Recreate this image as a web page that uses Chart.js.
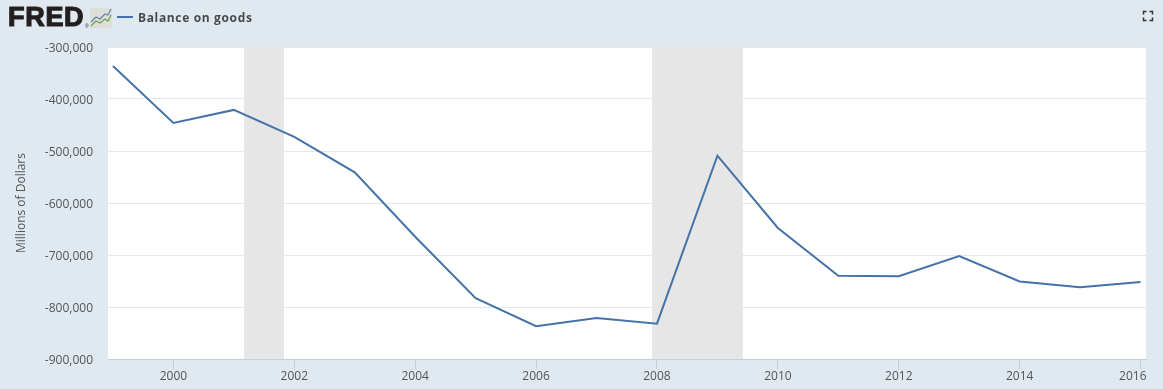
<!DOCTYPE html>
<html>
<head>
<meta charset="utf-8">
<script src="https://cdn.jsdelivr.net/npm/chart.js@4"></script>
<style>
html,body{margin:0;padding:0;background:#E1E9F0;width:1163px;height:389px;overflow:hidden}
#wrap{position:relative;width:1163px;height:389px}
#c{position:absolute;left:0;top:0}
.abs{position:absolute}
#fred{left:8px;top:1px;font:bold 27px/32px "Liberation Sans",Arial,sans-serif;color:#231F20;-webkit-text-stroke:1.2px #231F20;letter-spacing:.7px}
#reg{left:85px;top:23px;font:5px/6px "Liberation Sans",sans-serif;color:#231F20}
#leg{left:138px;top:9px;font:700 12px/17px "Open Sans",sans-serif;color:#4a4a4a;letter-spacing:.65px;white-space:nowrap}
#legline{left:117px;top:16px;width:16px;height:2px;background:#4572A7}
</style>
</head>
<body>
<div id="wrap">
<canvas id="c" width="1163" height="389"></canvas>
<div class="abs" id="fred">FRED</div>
<div class="abs" id="reg">®</div>
<svg class="abs" style="left:90px;top:8px" width="22" height="20" viewBox="0 0 22 20">
<rect x="0" y="0" width="22" height="20" rx="1.5" fill="#DEDEDA"/>
<polyline points="1,14 6,9 10,11 15,6 18,7 21,1" fill="none" stroke="#5F87AD" stroke-width="1.3"/>
<polyline points="1,18 6,13 10,15 15,11 18,13 21,7" fill="none" stroke="#76A04E" stroke-width="1.3"/>
</svg>
<div class="abs" id="legline"></div>
<div class="abs" id="leg">Balance on goods</div>
<svg class="abs" style="left:1142px;top:10px" width="12" height="12" viewBox="0 0 12 12">
<path d="M1.5 4.5V1.5H4.5M7.5 1.5H10.5V4.5M10.5 7.5V10.5H7.5M4.5 10.5H1.5V7.5" fill="none" stroke="#333" stroke-width="1.5"/>
</svg>
</div>
<script>
const years = [1999,2000,2001,2002,2003,2004,2005,2006,2007,2008,2009,2010,2011,2012,2013,2014,2015,2016];
const balanceOnGoods = [-336500,-446000,-421000,-473000,-541000,-665000,-783000,-837000,-821000,-832000,-509000,-648000,-740000,-741000,-702000,-751000,-762000,-752000];
const xTickYears = [2000,2002,2004,2006,2008,2010,2012,2014,2016];
const yTicks = [-900000,-800000,-700000,-600000,-500000,-400000,-300000];
const recessionStarts = [2001.17,2007.92];
const recessionEnds = [2001.83,2009.42];
const seriesName = 'Balance on goods';
const yTitle = 'Millions of Dollars';

const recessionBands = {
  id:'recessionBands',
  beforeDatasetsDraw(chart){
    const {ctx,chartArea:a,scales:{x}} = chart;
    ctx.save();
    ctx.fillStyle = '#E6E6E6';
    recessionStarts.forEach((s,i)=>{
      const l = x.getPixelForValue(s), r = x.getPixelForValue(recessionEnds[i]);
      ctx.fillRect(l,a.top,r-l,a.bottom-a.top);
    });
    ctx.restore();
  }
};
const plotBackground = {
  id:'plotBackground',
  beforeDraw(chart){
    const {ctx,chartArea:a} = chart;
    ctx.save();
    ctx.fillStyle = '#fff';
    ctx.fillRect(a.left,a.top,a.right-a.left,a.bottom-a.top);
    ctx.restore();
  }
};

new Chart(document.getElementById('c'),{
  type:'line',
  data:{
    labels:years,
    datasets:[{
      label:seriesName,
      data:years.map((y,i)=>({x:y,y:balanceOnGoods[i]})),
      borderColor:'#4572A7',
      borderWidth:2,
      pointRadius:0,
      tension:0,
      fill:false
    }]
  },
  options:{
    responsive:false,
    animation:false,
    parsing:false,
    layout:{padding:{top:47,right:17,left:0,bottom:0}},
    plugins:{legend:{display:false},tooltip:{enabled:false}},
    scales:{
      x:{
        type:'linear',
        min:1998.918,
        max:2016.09,
        afterBuildTicks(s){s.ticks = xTickYears.map(v=>({value:v}));},
        afterFit(s){s.height = 30;},
        grid:{drawOnChartArea:false,drawTicks:true,tickLength:10,color:'#C0D0E0',lineWidth:1},
        border:{display:true,color:'#C0D0E0',width:1},
        ticks:{
          autoSkip:false,maxRotation:0,padding:0,
          color:'#555',
          font:{family:'"Open Sans"',size:12},
          callback(v){return v===2016 ? String(v)+'     ' : String(v);}
        }
      },
      y:{
        min:-900000,
        max:-300000,
        afterBuildTicks(s){s.ticks = yTicks.map(v=>({value:v}));},
        afterFit(s){s.width = 108;},
        grid:{color:'#E6E6E6',lineWidth:1,drawTicks:false},
        border:{display:false},
        title:{display:true,text:yTitle,color:'#555',font:{family:'"Open Sans"',size:12},padding:{top:14,bottom:0}},
        ticks:{
          padding:15,
          labelOffset:1.5,
          color:'#555',
          font:{family:'"Open Sans"',size:12},
          callback(v){return v.toLocaleString('en-US');}
        }
      }
    }
  },
  plugins:[plotBackground,recessionBands]
});
</script>
</body>
</html>
